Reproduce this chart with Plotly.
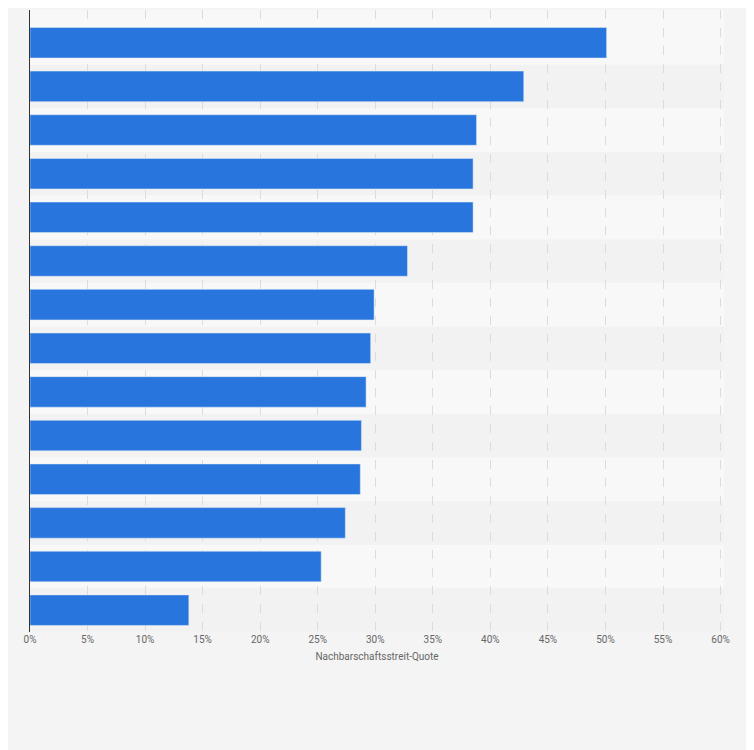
import plotly.graph_objects as go

categories = [f"Kategorie {i}" for i in range(1, 15)]
values = [50.1, 42.9, 38.8, 38.5, 38.5, 32.8, 29.9, 29.6, 29.2, 28.8, 28.7, 27.4, 25.3, 13.8]
tick_vals = [0, 5, 10, 15, 20, 25, 30, 35, 40, 45, 50, 55, 60]
tick_text = [f"{v}%" for v in tick_vals]

fig = go.Figure(go.Bar(x=values, y=categories, orientation="h", marker_color="#2876dd", width=0.7))

shapes = []
for i in range(len(categories)):
    shapes.append(dict(type="rect", xref="paper", yref="y", x0=0, x1=1, y0=i - 0.5, y1=i + 0.5,
                       fillcolor="#f2f2f2" if i % 2 == 0 else "#f8f8f8", line_width=0, layer="below"))

fig.update_layout(
    width=754, height=750, margin=dict(l=22, r=38, t=2, b=126),
    paper_bgcolor="#f4f4f4", plot_bgcolor="#f8f8f8", shapes=shapes, showlegend=False,
    font=dict(family="Roboto, Arial", color="#666666", size=10),
    xaxis=dict(range=[0, 60.3], tickvals=tick_vals, ticktext=tick_text, showgrid=True,
               gridcolor="#dcdcdc", griddash="dash", zeroline=False, ticks="",
               title=dict(text="Nachbarschaftsstreit-Quote", font=dict(size=10, color="#666666"), standoff=8),
               tickfont=dict(size=10, color="#666666")),
    yaxis=dict(categoryorder="array", categoryarray=categories[::-1], showticklabels=False,
               showline=True, linecolor="#333333", linewidth=1, showgrid=False, ticks="",
               range=[-0.5, 13.75]),
)
fig.write_html("out.html")
